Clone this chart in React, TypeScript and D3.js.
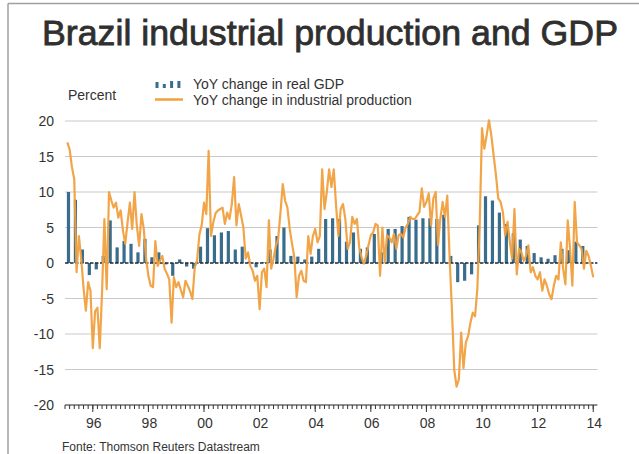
import React from 'react';
import * as d3 from 'd3';

// ---- Data ----
const title = 'Brazil industrial production and GDP';
const yAxisLabel = 'Percent';
const legendGdp = 'YoY change in real GDP';
const legendIp = 'YoY change in industrial production';
const source = 'Fonte: Thomson Reuters Datastream';

// Monthly YoY % change in industrial production, Jan 1995 .. Dec 2013
const ipStartYear = 1995;
const ipValues = [
  17.0, 16.0, 13.5, 11.8, -1.3, 3.8, 0.6, -3.5, -6.7, -2.7, -3.9, -12.0,
  -6.8, -6.3, -12.0, -4.0, 6.2, -3.7, 10.0, 8.8, 7.8, 8.5, 6.4, 7.4,
  4.6, 2.7, 5.7, 8.5, 4.8, 10.0, 5.3, 2.4, 6.9, 4.8, 0.6, -1.8,
  -3.2, -3.4, 3.1, -0.4, 0.3, 1.0, -0.8, -1.5, -2.3, -8.4, -2.0, -3.4,
  -2.7, -3.8, -4.8, -2.5, -3.2, -4.0, -5.1, -0.6, 0.3, 4.0, 5.3, 8.5,
  6.9, 15.8, 3.8, 5.7, 7.0, 7.4, 7.6, 7.8, 5.5, 7.1, 6.2, 8.3,
  12.1, 5.3, 8.3, 6.7, 5.0, 0.6, 1.5, -0.4, -1.1, -2.5, -1.8, -6.5,
  -1.3, -0.8, -3.4, 6.0, -0.8, 0.6, 2.4, 3.4, 7.1, 11.1, 8.8, 7.8,
  4.8, 2.7, 0.8, -4.8, -1.8, -1.1, -2.5, -2.7, 3.8, 1.3, 3.8, 4.8,
  2.9, 3.8, 13.2, 7.6, 10.0, 13.2, 10.7, 13.2, 8.1, 3.8, 7.6, 8.3,
  6.2, 2.0, 2.9, 6.5, 5.5, 6.2, 2.2, 0.8, -0.1, 1.0, 2.5, 3.9,
  4.3, 5.5, 5.3, -1.8, 5.0, 0.1, 3.9, 3.6, 2.9, 4.1, 2.0, 3.9,
  4.1, 3.6, 5.0, 5.5, 6.5, 6.2, 6.2, 6.7, 7.2, 10.5, 7.9, 8.6,
  9.8, 5.3, 9.1, 10.0, 2.5, 6.2, 8.6, 6.5, 9.5, 0.8, -6.5, -15.0,
  -17.4, -16.4, -9.8, -14.8, -11.2, -10.3, -8.4, -7.0, -7.5, -3.5, 5.5, 19.0,
  16.1, 18.0, 20.1, 18.0, 15.2, 12.4, 9.1, 8.6, 7.2, 3.9, 5.8, 3.0,
  0.6, 7.6, -1.6, 2.0, 1.5, 0.3, 1.0, 2.5, -1.3, -0.6, -1.8, -2.3,
  -1.3, -3.9, -2.3, -3.2, -4.4, -5.1, -3.2, -1.8, -2.3, 2.9, -0.8, -3.0,
  6.0, 2.0, -3.2, 8.6, 2.9, 2.5, 2.0, -0.8, 1.7, 1.0, -0.4, -2.0,
];

// Quarterly YoY % change in real GDP, 1995 Q1 .. 2013 Q3
const gdpStartYear = 1995;
const gdpValues = [
  10.0, 8.9, 1.9, -1.7,
  -0.9, 1.0, 6.0, 2.2,
  3.1, 2.7, 1.5, 3.4,
  0.8, 1.5, -0.2, -1.8,
  0.5, -0.5, -0.8, 2.3,
  4.9, 3.9, 4.3, 4.5,
  1.9, 2.3, 0.2, -0.6,
  0.1, 1.9, 3.8, 5.0,
  1.0, 0.9, 0.5, 0.9,
  2.0, 6.2, 6.3, 6.2,
  3.0, 4.3, 2.0, 2.2,
  4.1, 1.5, 4.8, 4.8,
  5.2, 6.5, 6.1, 6.3,
  6.3, 6.2, 6.8, 1.0,
  -2.7, -2.5, -1.6, 5.3,
  9.4, 8.8, 7.1, 5.5,
  4.2, 3.3, 2.4, 1.4,
  0.8, 0.6, 1.1, 2.0,
  1.8, 3.0, 2.4,
];

const yTicks = [-20, -15, -10, -5, 0, 5, 10, 15, 20];
const xLabelYears = [1996, 1998, 2000, 2002, 2004, 2006, 2008, 2010, 2012, 2014];
const xDomain = [1995, 2014.15];

const W = 639;
const H = 454;
const FONT = "'Liberation Sans', Arial, Helvetica, sans-serif";
const TEXT = '#333333';
const BAR = '#3a6c8c';
const LINE = '#f0a03e';

export default function App() {
  const x = d3.scaleLinear().domain(xDomain).range([65, 597.4]);
  const y = d3.scaleLinear().domain([-20, 20]).range([405, 121]);

  const ipPts = ipValues.map((v, i) => [ipStartYear + (i + 1) / 12, v] as [number, number]);
  const line = d3
    .line<[number, number]>()
    .x((d) => x(d[0]))
    .y((d) => y(d[1]));

  const barW = 3.2;
  const bars = gdpValues.map((v, i) => {
    const t = gdpStartYear + (i + 0.5) / 4;
    const cx = x(t);
    const y0 = y(0);
    const y1 = y(v);
    return { cx, top: Math.min(y0, y1), h: Math.abs(y1 - y0) };
  });

  // minor ticks every two months
  const minorTicks = d3.range(0, (2014 - 1995) * 6 + 1).map((k) => 1995 + k / 6);
  const [x0, x1] = x.range();

  return (
    <svg
      width={W}
      height={H}
      style={{ position: 'absolute', left: 0, top: 0, background: '#fff' }}
      fontFamily={FONT}
    >
      <rect x={0} y={0} width={W} height={H} fill="#fff" />
      {/* frame */}
      <line x1={8} y1={3.5} x2={W} y2={3.5} stroke="#a0a0a0" strokeWidth={1.5} />
      <line x1={8} y1={3.5} x2={8} y2={H} stroke="#a0a0a0" strokeWidth={1.5} />

      {/* title */}
      <text
        x={330}
        y={45}
        textAnchor="middle"
        fontSize={35}
        fill="#2f2f2f"
        stroke="#2f2f2f"
        strokeWidth={0.8}
        textLength={576}
        lengthAdjust="spacingAndGlyphs"
      >
        {title}
      </text>

      {/* legend */}
      <text x={68} y={100} fontSize={14} fill={TEXT}>
        {yAxisLabel}
      </text>
      {[6, 4, 7, 7].map((h, i) => (
        <rect key={i} x={155.5 + i * 7.3} y={88 - h} width={3} height={h} fill={BAR} />
      ))}
      <text x={193} y={89} fontSize={14} fill={TEXT}>
        {legendGdp}
      </text>
      <line x1={155} y1={99.5} x2={183} y2={99.5} stroke={LINE} strokeWidth={2.5} />
      <text x={193} y={105} fontSize={14} fill={TEXT}>
        {legendIp}
      </text>

      {/* gridlines */}
      {yTicks
        .filter((t) => t !== 0 && t !== -20)
        .map((t) => (
          <line key={t} x1={x0} x2={x1} y1={y(t)} y2={y(t)} stroke="#c9c9c9" strokeWidth={1} />
        ))}

      {/* y tick labels */}
      {yTicks.map((t) => (
        <text key={t} x={54} y={y(t) + 5} textAnchor="end" fontSize={14} fill={TEXT}>
          {String(t)}
        </text>
      ))}

      {/* GDP bars */}
      {bars.map((b, i) => (
        <rect key={i} x={b.cx - barW / 2} y={b.top} width={barW} height={b.h} fill={BAR} />
      ))}

      {/* zero line */}
      <line
        x1={x0}
        x2={x1}
        y1={y(0)}
        y2={y(0)}
        stroke="#1e2a36"
        strokeWidth={1.4}
        strokeDasharray="3.5,1.5"
      />

      {/* IP line */}
      <path
        d={line(ipPts) || ''}
        fill="none"
        stroke={LINE}
        strokeWidth={2.2}
        strokeLinejoin="round"
        strokeOpacity={0.95}
      />

      {/* x axis */}
      <line x1={x0} x2={x1} y1={y(-20)} y2={y(-20)} stroke="#222" strokeWidth={1} />
      {minorTicks.map((t, i) => (
        <line key={i} x1={x(t)} x2={x(t)} y1={y(-20)} y2={y(-20) + 4} stroke="#333" strokeWidth={1} />
      ))}
      {xLabelYears.map((yr) => (
        <g key={yr}>
          <line x1={x(yr)} x2={x(yr)} y1={y(-20)} y2={y(-20) + 7} stroke="#333" strokeWidth={1} />
          <text x={x(yr) + 1} y={428} textAnchor="middle" fontSize={14} fill={TEXT}>
            {String(yr).slice(2)}
          </text>
        </g>
      ))}

      {/* source */}
      <text x={62} y={451} fontSize={12} fill={TEXT}>
        {source}
      </text>
    </svg>
  );
}
